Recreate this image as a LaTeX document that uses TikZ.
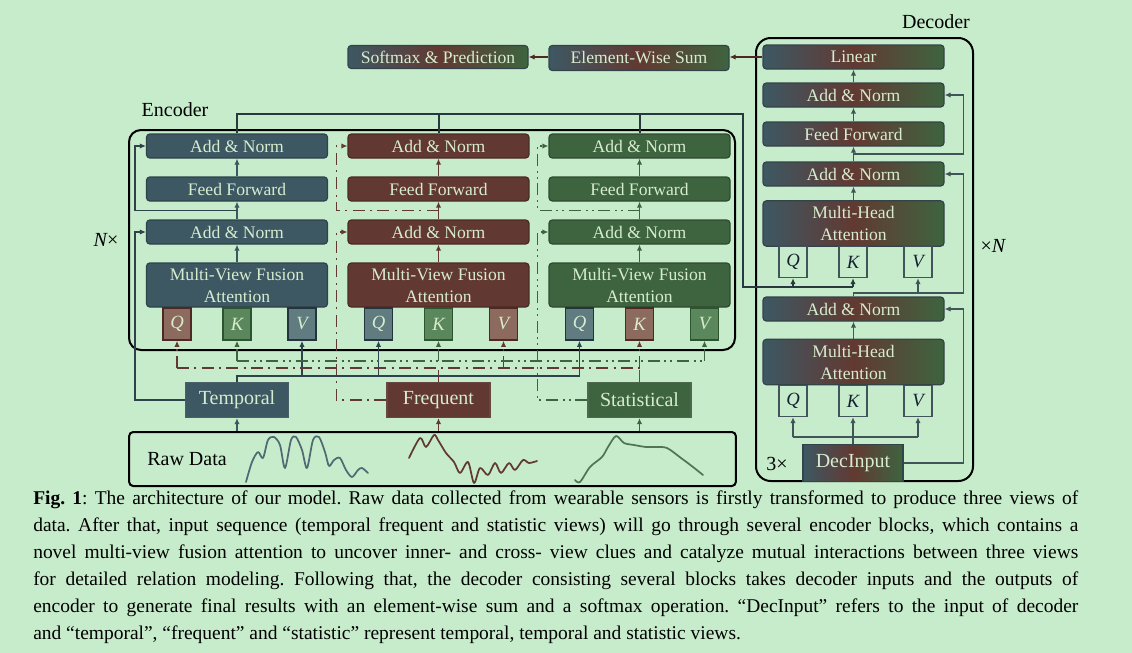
\documentclass[tikz,border=0pt]{standalone}
\usepackage{fontspec}
\setmainfont{Liberation Serif}
\usetikzlibrary{arrows.meta,calc}
\definecolor{bgcol}{RGB}{199,236,203}
\definecolor{tcol}{RGB}{61,88,99}
\definecolor{fcol}{RGB}{98,57,50}
\definecolor{scol}{RGB}{62,100,63}
\definecolor{tlight}{RGB}{96,124,128}
\definecolor{flight}{RGB}{140,106,94}
\definecolor{slight}{RGB}{90,136,92}
\definecolor{tdark}{RGB}{36,52,60}
\definecolor{fdark}{RGB}{78,40,34}
\definecolor{sdark}{RGB}{44,84,46}
\definecolor{boxtext}{RGB}{214,236,206}
\definecolor{declink}{RGB}{65,84,90}
\definecolor{encdark}{RGB}{40,56,62}
\definecolor{navytext}{RGB}{20,32,50}
\newlength\capw
\setlength\capw{783.75pt}
\newcommand\capline[1]{\makebox[\capw][s]{#1}}
\frenchspacing
\tikzset{
	blk/.style={draw=#1!75!black, fill=#1, line width=0.9pt, rounded corners=2.5pt, text=boxtext,
		minimum width=135.75pt, minimum height=18pt, inner sep=0pt, font=\fontsize{13.2}{16.5}\selectfont},
	gblk/.style={draw=declink!80!black, left color=tcol, right color=scol, middle color=fcol, line width=0.9pt,
		rounded corners=2.5pt, text=boxtext, minimum width=135.75pt, minimum height=18pt, inner sep=0pt,
		font=\fontsize{13.2}{16.5}\selectfont},
	qkv/.style={draw=#1dark, fill=#1light, line width=1.2pt, text=boxtext, minimum width=21pt,
		minimum height=24pt, inner sep=0pt, font=\fontsize{14}{16}\selectfont\itshape},
	dqkv/.style={draw=declink, line width=1.2pt, text=navytext, minimum width=21pt, minimum height=23pt,
		inner sep=0pt, font=\fontsize{14}{16}\selectfont\itshape},
	inbox/.style={draw=#1!80!gray, fill=#1, line width=1.2pt, text=boxtext, minimum width=77pt,
		minimum height=26pt, inner sep=0pt, font=\fontsize{15}{18}\selectfont},
	tlink/.style={draw=tdark!60!tcol, line width=1.3pt},
	flink/.style={draw=fcol, line width=1.3pt, dash pattern=on 9pt off 4pt on 1.5pt off 4pt},
	slink/.style={draw=scol, line width=1.3pt, dash pattern=on 9pt off 3.5pt on 1.5pt off 3pt on 1.5pt off 3.5pt},
	dlink/.style={draw=declink, line width=1.3pt},
	enclink/.style={draw=encdark, line width=1.5pt},
	outer/.style={draw=black, line width=1.5pt, rounded corners=9pt},
	lbl/.style={font=\fontsize{15}{18}\selectfont, text=black, inner sep=0pt},
	wave/.style={line width=1.3pt, line join=round, line cap=round},
}
\begin{document}
\begin{tikzpicture}[x=0.75pt,y=-0.75pt,>={Latex[length=4.5pt,width=4pt]}]
	\fill[bgcol] (0,0) rectangle (1132,653);
	\useasboundingbox (0,0) rectangle (1132,653);
	% encoder
	\draw[outer] (129,130) rectangle (735,350);
	\node[lbl] (enclbl) at (175,110) {Encoder};
	\node[lbl] (nx) at (106,240) {\itshape N\upshape ×};
	\foreach \vw/\x/\nm/\cl/\qc/\kc/\vc/\lk in {t/237/Temporal/tcol/f/s/t/tlink, f/438.5/Frequent/fcol/t/s/f/flink, s/639.5/Statistical/scol/t/f/s/slink}{
		\node[blk=\cl] (\vw AN2) at (\x,146) {Add \& Norm};
		\node[blk=\cl] (\vw FF) at (\x,189) {Feed Forward};
		\node[blk=\cl] (\vw AN1) at (\x,232) {Add \& Norm};
		\node[blk=\cl, minimum height=33pt, align=center] (\vw MV) at (\x,285) {Multi-View Fusion\\Attention};
		\node[qkv=\qc] (\vw Q) at (\x-60,324) {Q};
		\node[qkv=\kc] (\vw K) at (\x,324) {K};
		\node[qkv=\vc] (\vw V) at (\x+65,324) {V};
		\node[inbox=\cl] (\vw IN) at (\x,400) {\nm};
		\draw[->, draw=\cl, line width=1.3pt] (\vw MV) -- (\vw AN1);
		\draw[->, draw=\cl, line width=1.3pt] (\vw AN1) -- (\vw FF);
		\draw[->, draw=\cl, line width=1.3pt] (\vw FF) -- (\vw AN2);
		\draw[\lk, ->] ($(\vw AN1.north)!.5!(\vw FF.south)$) -| ($(\vw AN2.west)+(-11,0)$) -- (\vw AN2.west);
		\draw[\lk, ->] (\vw IN.west) -| ($(\vw AN1.west)+(-11,0)$) -- (\vw AN1.west);
	}
	% raw data
	\node[draw=black, line width=1.5pt, rounded corners=3pt, minimum width=455pt, minimum height=40.5pt] (raw) at (432.5,459) {};
	\node[lbl] (rawlbl) at (187,459) {Raw Data};
	\draw[wave, tcol!90!white] plot[smooth] coordinates {(246,482) (252,462) (258,452) (263,458) (268,440) (274,437) (280,445) (285,468) (291,440) (296,437) (302,450) (307,468) (313,440) (319,437) (325,452) (329,466) (334,460) (340,458) (346,470) (352,477) (358,470) (362,468) (368,473)};
	\draw[wave, fcol] plot[smooth] coordinates {(409,458) (420,438) (426,447) (434,435) (438,440) (446,453) (454,462) (460,473) (468,462) (474,483) (480,468) (488,475) (495,463) (501,473) (509,463) (515,470) (523,460) (529,463) (537,461)};
	\draw[wave, scol!90!white] plot[smooth] coordinates {(575,480) (580,482) (590,467) (602,457) (608,447) (616,436) (624,443) (634,445) (646,447) (656,447) (667,448) (681,458) (693,467) (703,475)};
	\foreach \vw/\cl in {t/tcol, f/fcol, s/scol}{
		\draw[->, draw=\cl, line width=1.3pt] (raw.north -| \vw IN) -- (\vw IN.south);
	}
	% views into Q K V
	\coordinate (tbus) at (0,376);
	\coordinate (fbus) at (0,368);
	\coordinate (sbus) at (0,361);
	\draw[tlink] (tIN.north) |- (sQ.south |- tbus);
	\draw[tlink, ->] (sQ.south |- tbus) -- (sQ.south);
	\draw[tlink, ->] (tV.south |- tbus) -- (tV.south);
	\draw[tlink, ->] (fQ.south |- tbus) -- (fQ.south);
	\draw[flink] (fIN.north) -- (fIN.north |- fbus);
	\draw[flink] (tQ.south |- fbus) -- (sK.south |- fbus);
	\draw[flink, ->] (tQ.south |- fbus) -- (tQ.south);
	\draw[flink, ->] (fV.south |- fbus) -- (fV.south);
	\draw[flink, ->] (sK.south |- fbus) -- (sK.south);
	\draw[slink] (sIN.north) -- (sIN.north |- sbus);
	\draw[slink] (tK.south |- sbus) -- (sV.south |- sbus);
	\draw[slink, ->] (tK.south |- sbus) -- (tK.south);
	\draw[slink, ->] (fK.south |- sbus) -- (fK.south);
	\draw[slink, ->] (sV.south |- sbus) -- (sV.south);
	% decoder
	\draw[outer, rounded corners=11pt] (756,38) rectangle (973,481);
	\node[lbl] (declbl) at (936,22) {Decoder};
	\node[lbl] (xn) at (993,246) {×\itshape N};
	\node[lbl] (threex) at (777,464) {3×};
	\node[gblk] (lin) at (853.5,57) {Linear};
	\node[gblk] (dAN4) at (853.5,95) {Add \& Norm};
	\node[gblk] (dFF) at (853.5,134) {Feed Forward};
	\node[gblk] (dAN3) at (853.5,174) {Add \& Norm};
	\node[gblk, minimum height=34pt, align=center] (dMH2) at (853.5,223.5) {Multi-Head\\Attention};
	\node[dqkv] (dQ2) at (793,262) {Q};
	\node[dqkv] (dK2) at (853,262) {K};
	\node[dqkv] (dV2) at (918,262) {V};
	\node[gblk] (dAN1) at (853.5,309) {Add \& Norm};
	\node[gblk, minimum height=34pt, align=center] (dMH1) at (853.5,362) {Multi-Head\\Attention};
	\node[dqkv] (dQ1) at (793,401) {Q};
	\node[dqkv] (dK1) at (853,401) {K};
	\node[dqkv] (dV1) at (918,401) {V};
	\node[gblk, minimum width=75pt, minimum height=28pt, font=\fontsize{15}{18}\selectfont, rounded corners=0pt] (decin) at (853,463) {DecInput};
	\draw[dlink, ->] (dAN4) -- (lin);
	\draw[dlink, ->] (dFF) -- (dAN4);
	\draw[dlink, ->] (dAN3) -- (dFF);
	\draw[dlink, ->] (dMH2) -- (dAN3);
	\draw[dlink, ->] (dMH1) -- (dAN1);
	\draw[dlink, ->] ($(dAN3.north)!.5!(dFF.south)$) -| ($(dAN4.east)+(19,0)$) -- (dAN4.east);
	\coordinate (j1) at (853.5,293);
	\draw[dlink, ->] (dAN1.north) -- (j1) -| ($(dAN3.east)+(19,0)$) -- (dAN3.east);
	\draw[dlink, ->] (dV2.south |- j1) -- (dV2.south);
	\coordinate (j0) at (853,437);
	\draw[dlink] (decin.north) -- (j0);
	\draw[dlink] (dQ1.south |- j0) -- (dV1.south |- j0);
	\draw[dlink, ->] (dQ1.south |- j0) -- (dQ1.south);
	\draw[dlink, ->] (dK1.south |- j0) -- (dK1.south);
	\draw[dlink, ->] (dV1.south |- j0) -- (dV1.south);
	\draw[dlink, ->] (decin.east) -| ($(dAN1.east)+(19,0)$) -- (dAN1.east);
	% encoder output to decoder
	\coordinate (encbus) at (743,114);
	\coordinate (encq) at (0,287);
	\draw[enclink] (tAN2.north) |- (encbus) |- (dK2.south |- encq);
	\draw[enclink] (fAN2.north) -- (fAN2.north |- encbus);
	\draw[enclink] (sAN2.north) -- (sAN2.north |- encbus);
	\draw[enclink, ->] (dQ2.south |- encq) -- (dQ2.south);
	\draw[enclink, ->] (dK2.south |- encq) -- (dK2.south);
	% output
	\node[gblk, minimum width=135pt, minimum height=18.75pt] (sum) at (639,58) {Element-Wise Sum};
	\node[gblk, minimum width=135pt, minimum height=17.25pt] (soft) at (438,57) {Softmax \& Prediction};
	\draw[->, draw=fdark, line width=1.3pt] (lin.west) -- (sum.east |- lin.west);
	\draw[->, draw=fdark, line width=1.3pt] (sum.west |- soft.east) -- (soft.east);
	% caption
	\node[anchor=north west, inner sep=0pt, align=left, font=\fontsize{14.6}{20.25}\selectfont] (caption) at (33,490.5) {%
		\capline{\textbf{Fig. 1}: The architecture of our model. Raw data collected from wearable sensors is firstly transformed to produce three views of}\\
		\capline{data. After that, input sequence (temporal frequent and statistic views) will go through several encoder blocks, which contains a}\\
		\capline{novel multi-view fusion attention to uncover inner- and cross- view clues and catalyze mutual interactions between three views}\\
		\capline{for detailed relation modeling. Following that, the decoder consisting several blocks takes decoder inputs and the outputs of}\\
		\capline{encoder to generate final results with an element-wise sum and a softmax operation. “DecInput” refers to the input of decoder}\\
		and “temporal”, “frequent” and “statistic” represent temporal, temporal and statistic views.};
\end{tikzpicture}
\end{document}
